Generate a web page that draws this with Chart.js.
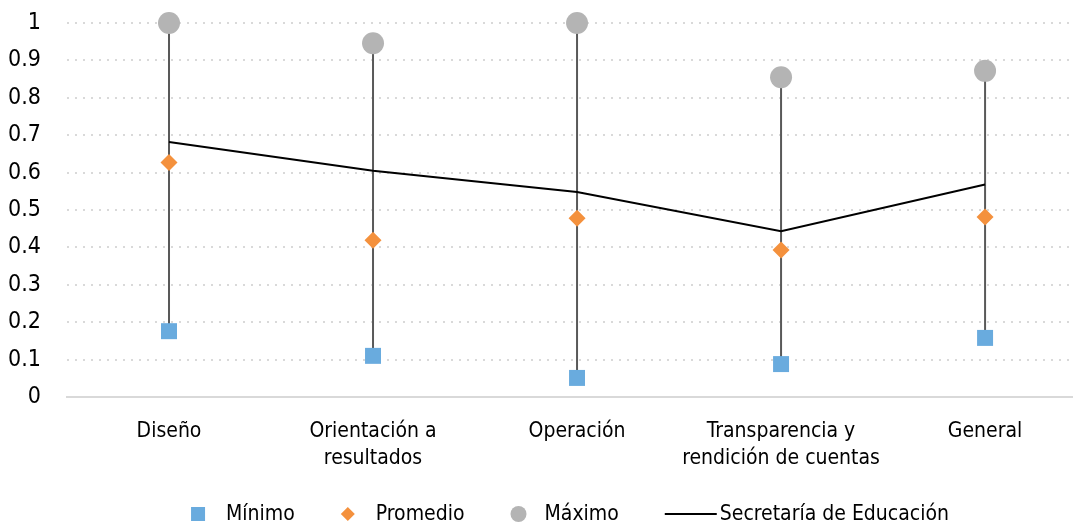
<!DOCTYPE html>
<html>
<head>
<meta charset="utf-8">
<script src="https://cdn.jsdelivr.net/npm/chart.js@4.4.1/dist/chart.umd.min.js"></script>
<style>
  html, body { margin: 0; padding: 0; background: #fff; overflow: hidden; }
  #wrap { width: 1073px; height: 528px; position: relative; }
</style>
</head>
<body>
<div id="wrap"><canvas id="grafico"></canvas></div>
<script>
const categorias = ['Diseño', ['Orientación a', 'resultados'], 'Operación', ['Transparencia y', 'rendición de cuentas'], 'General']
const minimo = [0.176, 0.110, 0.051, 0.088, 0.158]
const promedio = [0.627, 0.419, 0.478, 0.393, 0.481]
const maximo = [1.0, 0.946, 1.0, 0.855, 0.872]
const secretaria = [0.682, 0.605, 0.548, 0.443, 0.568]
const ticksY = [0, 0.1, 0.2, 0.3, 0.4, 0.5, 0.6, 0.7, 0.8, 0.9, 1]

const fuente = "'Liberation Sans Narrow', 'DejaVu Sans Condensed', 'Roboto', sans-serif"
const azul = '#69abde'
const naranja = '#f4913d'
const gris = '#b4b4b4'

const pts = (arr) => arr.map((v, i) => ({ x: i, y: v }))

// lineas verticales entre minimo y maximo
const lineasAltoBajo = {
  id: 'lineasAltoBajo',
  beforeDatasetsDraw(chart) {
    const { ctx, scales } = chart
    ctx.save()
    ctx.strokeStyle = '#595959'
    ctx.lineWidth = 2
    minimo.forEach((v, i) => {
      const x = scales.x.getPixelForValue(i)
      ctx.beginPath()
      ctx.moveTo(x, scales.y.getPixelForValue(v))
      ctx.lineTo(x, scales.y.getPixelForValue(maximo[i]))
      ctx.stroke()
    })
    ctx.restore()
  },
}

// leyenda dibujada a mano para imitar el espaciado de Excel
const leyenda = {
  id: 'leyenda',
  afterDraw(chart) {
    const { ctx, chartArea } = chart
    const items = [
      { texto: 'Mínimo', tipo: 'rect', color: azul, ancho: 14, gap: 21 },
      { texto: 'Promedio', tipo: 'rombo', color: naranja, ancho: 14, gap: 21 },
      { texto: 'Máximo', tipo: 'circulo', color: gris, ancho: 16, gap: 18 },
      { texto: 'Secretaría de Educación', tipo: 'linea', color: '#000', ancho: 52, gap: 3 },
    ]
    const sep = 46
    const y = 514
    ctx.save()
    ctx.font = '21px ' + fuente
    ctx.textBaseline = 'middle'
    let total = 0
    items.forEach((it, i) => {
      it.tw = ctx.measureText(it.texto).width
      total += it.ancho + it.gap + it.tw + (i < items.length - 1 ? sep : 0)
    })
    let x = (chartArea.left + chartArea.right) / 2 - total / 2
    items.forEach((it) => {
      const cx = x + it.ancho / 2
      ctx.fillStyle = it.color
      ctx.strokeStyle = it.color
      if (it.tipo === 'rect') {
        ctx.fillRect(cx - 7, y - 7, 14, 14)
      } else if (it.tipo === 'rombo') {
        ctx.beginPath()
        ctx.moveTo(cx, y - 7)
        ctx.lineTo(cx + 7, y)
        ctx.lineTo(cx, y + 7)
        ctx.lineTo(cx - 7, y)
        ctx.closePath()
        ctx.fill()
      } else if (it.tipo === 'circulo') {
        ctx.beginPath()
        ctx.arc(cx, y, 8, 0, Math.PI * 2)
        ctx.fill()
      } else {
        ctx.lineWidth = 2
        ctx.beginPath()
        ctx.moveTo(x, y)
        ctx.lineTo(x + it.ancho, y)
        ctx.stroke()
      }
      x += it.ancho + it.gap
      ctx.fillStyle = '#000'
      ctx.fillText(it.texto, x, y + 1)
      x += it.tw + sep
    })
    ctx.restore()
  },
}

const ctx = document.getElementById('grafico').getContext('2d')
const grafico = new Chart(ctx, {
  type: 'line',
  data: {
    datasets: [
      {
        label: 'Secretaría de Educación',
        data: pts(secretaria),
        borderColor: '#000',
        borderWidth: 2,
        pointRadius: 0,
        tension: 0,
        clip: false,
        order: 5,
      },
      {
        label: 'Máximo',
        data: pts(maximo),
        showLine: false,
        pointStyle: 'circle',
        pointRadius: 11,
        pointBackgroundColor: gris,
        pointBorderWidth: 0,
        clip: false,
        order: 3,
      },
      {
        label: 'Promedio',
        data: pts(promedio),
        showLine: false,
        pointStyle: 'rectRot',
        pointRadius: 8.5,
        pointBackgroundColor: naranja,
        pointBorderWidth: 0,
        clip: false,
        order: 2,
      },
      {
        label: 'Mínimo',
        data: pts(minimo),
        showLine: false,
        pointStyle: 'rect',
        pointRadius: 11.3,
        pointBackgroundColor: azul,
        pointBorderWidth: 0,
        clip: false,
        order: 1,
      },
    ],
  },
  options: {
    responsive: true,
    maintainAspectRatio: false,
    animation: false,
    layout: { autoPadding: false, padding: { top: 23, right: 0, bottom: 0, left: 0 } },
    plugins: {
      legend: { display: false },
      tooltip: { enabled: false },
    },
    scales: {
      x: {
        type: 'linear',
        min: -0.5,
        max: 4.431,
        afterBuildTicks: (scale) => {
          scale.ticks = categorias.map((c, i) => ({ value: i }))
        },
        afterFit: (scale) => {
          scale.height = 131
          scale.paddingLeft = 0
          scale.paddingRight = 0
        },
        ticks: {
          autoSkip: false,
          maxRotation: 0,
          padding: 21,
          color: '#000',
          font: { family: fuente, size: 21, lineHeight: 1.3 },
          callback: (v) => categorias[v],
        },
        grid: { display: false, drawTicks: false },
        border: { display: true, color: '#d9d9d9', width: 2 },
      },
      y: {
        min: 0,
        max: 1,
        afterBuildTicks: (scale) => {
          scale.ticks = ticksY.map((v) => ({ value: v }))
        },
        afterFit: (scale) => {
          scale.width = 67
          scale.paddingTop = 0
          scale.paddingBottom = 0
        },
        ticks: {
          padding: 26,
          color: '#000',
          font: { family: fuente, size: 23 },
          callback: (v) => String(v),
        },
        grid: {
          drawTicks: false,
          lineWidth: 2,
          color: (c) => (c.tick && c.tick.value === 0 ? 'rgba(0,0,0,0)' : '#d9d9d9'),
        },
        border: { display: false, dash: [2, 6] },
      },
    },
  },
  plugins: [lineasAltoBajo, leyenda],
})
</script>
</body>
</html>
